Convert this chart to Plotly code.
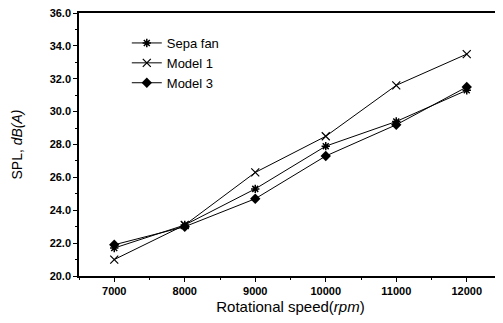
import plotly.graph_objects as go

speeds = [7000, 8000, 9000, 10000, 11000, 12000]
sepa_fan = [21.7, 23.1, 25.3, 27.9, 29.4, 31.3]
model_1 = [21.0, 23.1, 26.3, 28.5, 31.6, 33.5]
model_3 = [21.9, 23.0, 24.7, 27.3, 29.2, 31.5]

y_ticks = [20, 22, 24, 26, 28, 30, 32, 34, 36]
x_ticks = [7000, 8000, 9000, 10000, 11000, 12000]

fig = go.Figure()
fig.add_trace(go.Scatter(x=speeds, y=sepa_fan, name="Sepa fan", mode="lines+markers",
                         line=dict(color="black", width=1),
                         marker=dict(symbol="asterisk-open", size=7, color="black",
                                     line=dict(color="black", width=1.5))))
fig.add_trace(go.Scatter(x=speeds, y=model_1, name="Model 1", mode="lines+markers",
                         line=dict(color="black", width=1),
                         marker=dict(symbol="x-thin-open", size=8, color="black",
                                     line=dict(color="black", width=1.2))))
fig.add_trace(go.Scatter(x=speeds, y=model_3, name="Model 3", mode="lines+markers",
                         line=dict(color="black", width=1),
                         marker=dict(symbol="diamond", size=8, color="black")))

font_family = "Liberation Sans, Arial, sans-serif"
fig.update_layout(
    width=495, height=315,
    margin=dict(l=71, r=1, t=5, b=47),
    paper_bgcolor="white", plot_bgcolor="white",
    font=dict(family=font_family, color="black"),
    showlegend=True,
    legend=dict(x=0.113, y=0.943, xanchor="left", yanchor="top",
                bgcolor="rgba(0,0,0,0)", font=dict(size=13), tracegroupgap=0),
    xaxis=dict(range=[6500, 12500], tickvals=x_ticks, ticktext=[str(v) for v in x_ticks],
               automargin=False, ticklabeloverflow="allow",
               showgrid=False, zeroline=False, showline=True, linecolor="black", linewidth=1.5,
               mirror=True, ticks="outside", ticklen=4, tickcolor="black",
               tickfont=dict(size=11, weight="bold"),
               minor=dict(dtick=500, ticks="outside", ticklen=2, tickcolor="black"),
               title=dict(text="Rotational speed(<i>rpm</i>)", font=dict(size=15), standoff=6)),
    yaxis=dict(range=[20, 36], tickvals=y_ticks, ticktext=[f"{v:.1f}" for v in y_ticks],
               automargin=False, ticklabeloverflow="allow",
               showgrid=False, zeroline=False, showline=True, linecolor="black", linewidth=1.5,
               mirror=True, ticks="outside", ticklen=4, tickcolor="black",
               tickfont=dict(size=11, weight="bold"),
               minor=dict(dtick=1, ticks="outside", ticklen=2, tickcolor="black"),
               title=dict(text="SPL, <i>dB(A)</i>", font=dict(size=14), standoff=24)),
)

fig.write_html("out.html")
